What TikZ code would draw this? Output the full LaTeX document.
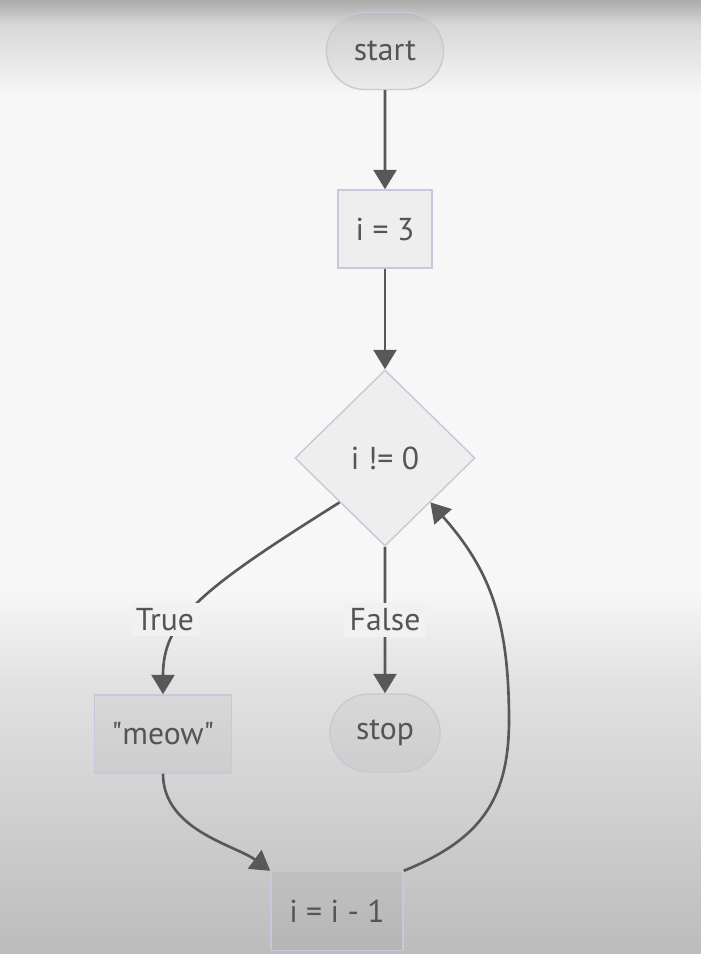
\documentclass[tikz,border=0pt]{standalone}
\usepackage{fontspec}
\setmainfont{PT Sans}
\usetikzlibrary{arrows.meta, shapes.geometric, shapes.misc, positioning}

% colours of the flowchart
\definecolor{nodeline}{RGB}{200,200,216}
\definecolor{inkgray}{RGB}{88,88,88}
\definecolor{txtgray}{RGB}{82,86,86}
\definecolor{bgtop}{RGB}{170,170,170}
\definecolor{bgmid}{RGB}{247,247,247}
\definecolor{bglow}{RGB}{226,226,226}
\definecolor{bgbot}{RGB}{188,188,188}
\definecolor{labelbg}{RGB}{241,241,241}

\begin{document}
\begin{tikzpicture}[x=0.01cm, y=-0.01cm, >={Triangle[length=5.5pt, width=6.5pt]},
    every node/.style={font=\fontsize{9}{11}\selectfont, text=txtgray},
    block/.style={rectangle, draw=nodeline, line width=0.4pt, fill=black, fill opacity=0.035, text opacity=1, inner sep=0pt},
    terminal/.style={block, rounded rectangle},
    decision/.style={block, diamond, minimum width=1.8cm, minimum height=1.76cm},
    flow/.style={->, draw=inkgray, line width=0.75pt},
    edgelabel/.style={fill=labelbg, inner sep=1.5pt}]

    % 1. background with dark bands at top and bottom
    \useasboundingbox (0,0) rectangle (701,954);
    \shade[top color=bgtop, bottom color=bgtop!40!bgmid] (0,0) rectangle (701,25);
    \shade[top color=bgtop!40!bgmid, bottom color=bgmid] (0,25) rectangle (701,95);
    \fill[bgmid] (0,95) rectangle (701,590);
    \shade[top color=bgmid, bottom color=bglow] (0,590) rectangle (701,680);
    \shade[top color=bglow, bottom color=bgbot] (0,680) rectangle (701,954);

    % 2. nodes
    \node[terminal, minimum width=1.17cm, minimum height=0.77cm] (start) at (385,51) {start};
    \node[block, minimum width=0.94cm, minimum height=0.78cm] (init) at (385,229) {i = 3};
    \node[decision] (cond) at (385,458) {i != 0};
    \node[block, minimum width=1.37cm, minimum height=0.78cm] (meow) at (163,734) {\textquotedbl meow\textquotedbl};
    \node[terminal, minimum width=1.10cm, minimum height=0.78cm] (stop) at (385,733) {stop};
    \node[block, minimum width=1.32cm, minimum height=0.79cm] (dec) at (337,911) {i = i - 1};

    % 3. connectors
    \draw[flow] (start) -- (init);
    \draw[flow] (init) -- (cond);
    \draw[flow] (cond.south west) .. controls (200,590) and (163,620) ..
        node[pos=0.6, xshift=-2mm, edgelabel] {True} (meow.north);
    \draw[flow] (cond) -- node[edgelabel] {False} (stop);
    \draw[flow] (meow.south) .. controls (163,830) and (235,845) .. (dec.north west);
    \draw[flow] (dec.north east) .. controls (480,840) and (509,800) .. (509,720)
        .. controls (509,620) and (490,570) .. (cond.south east);

\end{tikzpicture}
\end{document}
